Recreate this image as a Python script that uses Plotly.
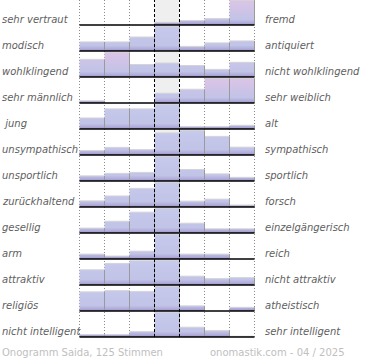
import plotly.graph_objects as go

# ---------------- data ----------------
LEFT_LABELS = ["sehr vertraut", "modisch", "wohlklingend", "sehr männlich", " jung",
               "unsympathisch", "unsportlich", "zurückhaltend", "gesellig", "arm",
               "attraktiv", "religiös", "nicht intelligent"]
RIGHT_LABELS = ["fremd", "antiquiert", "nicht wohlklingend", "sehr weiblich", "alt",
                "sympathisch", "sportlich", "forsch", "einzelgängerisch", "reich",
                "nicht attraktiv", "atheistisch", "sehr intelligent"]

# relative share per scale step (7 steps, left pole -> right pole), normalised per row
vertraut_fremd = [0.00, 0.00, 0.00, 0.11, 0.18, 0.26, 1.00]
modisch_antiquiert = [0.37, 0.37, 0.57, 1.00, 0.19, 0.33, 0.41]
wohlklingend = [0.72, 1.00, 0.51, 0.57, 0.47, 0.31, 0.60]
maennlich_weiblich = [0.09, 0.00, 0.00, 0.40, 0.56, 1.00, 1.00]
jung_alt = [0.45, 0.82, 0.82, 1.00, 0.10, 0.10, 0.15]
sympathisch = [0.18, 0.31, 0.22, 0.90, 1.00, 0.76, 0.32]
sportlich = [0.21, 0.31, 0.35, 1.00, 0.47, 0.29, 0.15]
zurueckhaltend_forsch = [0.25, 0.45, 0.76, 1.00, 0.24, 0.32, 0.08]
gesellig_einzelgaenger = [0.20, 0.48, 0.85, 1.00, 0.40, 0.17, 0.17]
arm_reich = [0.20, 0.12, 0.32, 1.00, 0.20, 0.20, 0.00]
attraktiv = [0.62, 0.88, 0.99, 1.00, 0.36, 0.26, 0.30]
religioes_atheistisch = [0.78, 0.83, 0.80, 1.00, 0.21, 0.00, 0.15]
intelligent = [0.10, 0.10, 0.22, 1.00, 0.40, 0.26, 0.03]

ROWS = [vertraut_fremd, modisch_antiquiert, wohlklingend, maennlich_weiblich, jung_alt,
        sympathisch, sportlich, zurueckhaltend_forsch, gesellig_einzelgaenger, arm_reich,
        attraktiv, religioes_atheistisch, intelligent]
STEPS = list(range(7))

FOOTER_LEFT = "Onogramm Saida, 125 Stimmen"
FOOTER_RIGHT = "onomastik.com - 04 / 2025"

# ---------------- style ----------------
W, H = 370, 360
COL_PX = 25.0
ROW_PX = 26.0
LEFT_PX = 79.5
FIRST_BASE_PX = 25.0
N = len(ROWS)
LAST_BASE_PX = FIRST_BASE_PX + ROW_PX * (N - 1)
FULL = 24.5 / ROW_PX
PINK_TINT = {(0, 6): 1.0, (2, 1): 1.0, (2, 0): 0.6, (2, 6): 0.5,
             (3, 4): 0.4, (3, 5): 1.0, (3, 6): 1.0}

x0 = -0.5 - LEFT_PX / COL_PX
x1 = x0 + W / COL_PX
y0 = (LAST_BASE_PX - H) / ROW_PX
y1 = LAST_BASE_PX / ROW_PX


def blend(c1, c2, t):
    a = [int(c1[i:i + 2], 16) for i in (1, 3, 5)]
    b = [int(c2[i:i + 2], 16) for i in (1, 3, 5)]
    return "#%02x%02x%02x" % tuple(round(a[k] + (b[k] - a[k]) * t) for k in range(3))


fig = go.Figure()

for r, vals in enumerate(ROWS):
    base = (N - 1) - r
    edge_x, edge_y, top_x, top_y = [], [], [], []
    for c, v in zip(STEPS, vals):
        if v <= 0:
            continue
        h = v * FULL
        top = blend("#c6caeb", "#dcc4e6", PINK_TINT.get((r, c), 0.0))
        fig.add_trace(go.Scatter(
            x=[c - 0.5, c - 0.5, c + 0.5, c + 0.5, c - 0.5],
            y=[base, base + h, base + h, base, base],
            mode="lines", line=dict(width=0), fill="toself",
            fillgradient=dict(type="vertical", start=base, stop=base + FULL,
                              colorscale=[[0, "#8f80b8"], [0.07, "#ada9d8"],
                                          [0.22, "#c1c3e7"], [1, top]]),
            hoverinfo="skip", showlegend=False))
        top_x += [c - 0.5, c + 0.5, None]
        top_y += [base + h, base + h, None]
        edge_x += [c + 0.5, c + 0.5, None]
        edge_y += [base, base + h, None]
    if top_x:
        fig.add_trace(go.Scatter(x=top_x, y=top_y, mode="lines",
                                 line=dict(color="#d4d4d8", width=1),
                                 hoverinfo="skip", showlegend=False))
        fig.add_trace(go.Scatter(x=edge_x, y=edge_y, mode="lines",
                                 line=dict(color="#9a9a9a", width=1),
                                 hoverinfo="skip", showlegend=False))

shapes = []
# centre column background
shapes.append(dict(type="rect", xref="x", yref="y", x0=2.5, x1=3.5, y0=0, y1=y1,
                   fillcolor="#efeff0", line=dict(width=0), layer="below"))
# dotted grid
for gx in [-0.5, 0.5, 1.5, 4.5, 5.5, 6.5]:
    shapes.append(dict(type="line", xref="x", yref="y", x0=gx, x1=gx, y0=0, y1=y1,
                       line=dict(color="#8a8a8a", width=1, dash="1px,2px"), layer="below"))
# dashed centre lines
for gx in [2.5, 3.5]:
    shapes.append(dict(type="line", xref="x", yref="y", x0=gx, x1=gx, y0=0, y1=y1,
                       line=dict(color="#000000", width=1, dash="3px,2px"), layer="above"))
# baselines
for r in range(N):
    b = (N - 1) - r
    shapes.append(dict(type="line", xref="x", yref="y", x0=-0.5, x1=6.5, y0=b, y1=b,
                       line=dict(color="#000000", width=1.6), layer="above"))

annotations = []
lab_font = dict(family="DejaVu Sans", size=10, color="#606060", style="italic")
for r in range(N):
    b = (N - 1) - r
    ty = b + 5.5 / ROW_PX
    annotations.append(dict(x=0, xref="paper", y=ty, yref="y", text=LEFT_LABELS[r],
                            showarrow=False, xanchor="left", yanchor="middle",
                            font=lab_font))
    annotations.append(dict(x=263 / W, xref="paper", y=ty, yref="y", text=RIGHT_LABELS[r],
                            showarrow=False, xanchor="left", yanchor="middle",
                            font=lab_font))
foot_font = dict(family="DejaVu Sans", size=10, color="#c0c0c0")
annotations.append(dict(x=0, xref="paper", y=1 - 352 / H, yref="paper", text=FOOTER_LEFT,
                        showarrow=False, xanchor="left", yanchor="middle", font=foot_font))
annotations.append(dict(x=347 / W, xref="paper", y=1 - 352 / H, yref="paper",
                        text=FOOTER_RIGHT, showarrow=False, xanchor="right",
                        yanchor="middle", font=foot_font))

fig.update_layout(
    width=W, height=H, margin=dict(l=0, r=0, t=0, b=0),
    paper_bgcolor="white", plot_bgcolor="white",
    xaxis=dict(range=[x0, x1], visible=False, fixedrange=True),
    yaxis=dict(range=[y0, y1], visible=False, fixedrange=True),
    shapes=shapes, annotations=annotations, showlegend=False,
)

fig.write_html("out.html", config={"displayModeBar": False},
               post_script="document.body.style.margin='0';document.body.style.overflow='hidden';")
